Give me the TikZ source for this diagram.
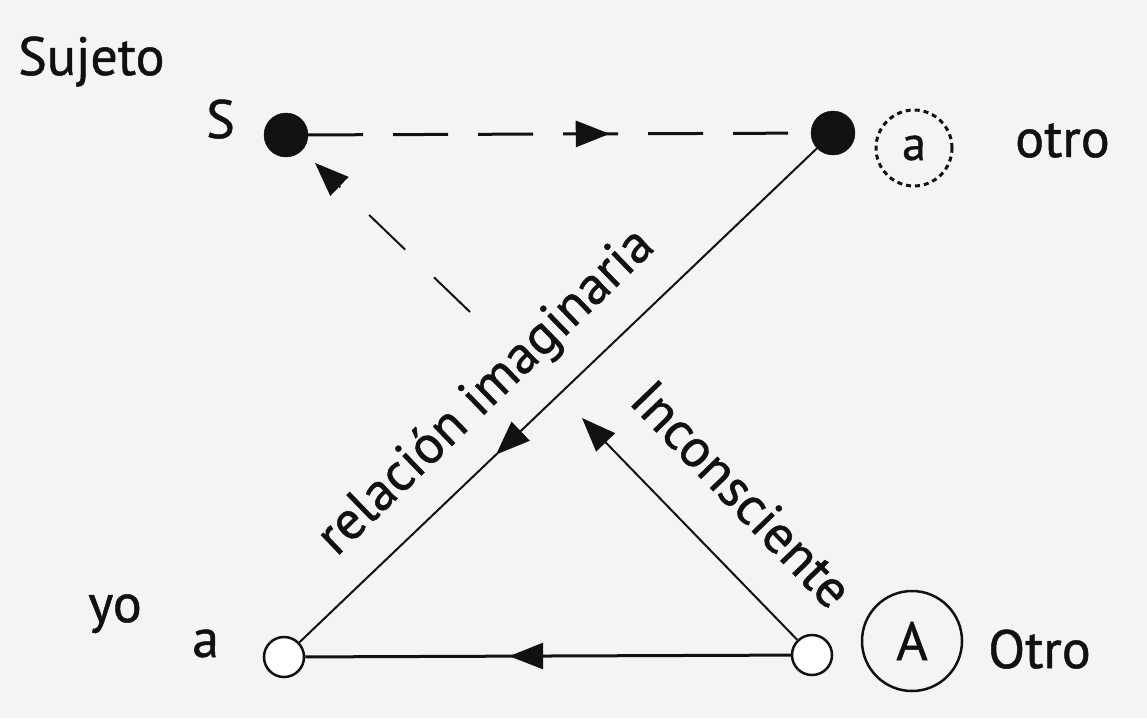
\documentclass[tikz,border=0pt]{standalone}
\usepackage{fontspec}
\setmainfont{PT Sans}[FakeBold=0.9]
\usetikzlibrary{arrows.meta,decorations.markings}
\definecolor{bg}{HTML}{F4F4F4}
\definecolor{ink}{HTML}{111111}
\tikzset{
  x=1pt,y=-1pt,
  txt/.style={inner sep=0pt,text=ink,font=\fontsize{54}{60}\selectfont},
  fdot/.style={circle,fill=ink,draw=ink,minimum size=44pt,inner sep=0pt},
  odot/.style={circle,fill=white,draw=ink,line width=2.5pt,minimum size=40pt,inner sep=0pt},
  dcirc/.style={circle,draw=ink,line width=3pt,dash pattern=on 5pt off 4pt,minimum size=76pt,inner sep=0pt,text=ink,font=\fontsize{48}{50}\selectfont},
  scirc/.style={circle,draw=ink,line width=2.5pt,minimum size=100pt,inner sep=0pt,text=ink,font=\fontsize{54}{56}\selectfont},
  conn/.style={draw=ink,line width=3pt},
  thin conn/.style={draw=ink,line width=2pt},
  bigtri/.tip={Triangle[length=34pt,width=26pt]},
  midarrow/.style={postaction={decorate},decoration={markings,mark=at position #1 with {\arrow{bigtri}}}},
  dashline/.style={dash pattern=on 55pt off 30pt},
}
\begin{document}
\begin{tikzpicture}
\fill[bg] (0,0) rectangle (1147,718);
\useasboundingbox (0,0) rectangle (1147,718);

% points
\node[fdot] (S) at (286,135) {};
\node[fdot] (ap) at (833,133) {};
\node[odot] (a) at (284,657) {};
\node[odot] (A) at (812,655) {};
\node[dcirc] (ca) at (914,148) {a};
\node[scirc] (cA) at (912,641) {A};

% labels
\node[txt,anchor=base west] (sujeto) at (18,75) {Sujeto};
\node[txt,anchor=base west] (Slab) at (206,138) {S};
\node[txt,anchor=base west] (otro) at (1015,157) {otro};
\node[txt,anchor=base west] (Otro) at (988,668) {Otro};
\node[txt,anchor=base west] (yo) at (88,622) {yo};
\node[txt,anchor=base west] (alab) at (192,657) {a};

% coordinates for the broken line A -> S
\coordinate (m1) at (582,418);
\coordinate (d1) at (470,312);

% connectors
\path[conn,dashline,midarrow=0.6] (S) -- (ap);
\path[thin conn,midarrow=0.62] (ap) -- (a);
\path[conn,midarrow=0.58] (A) -- (a);
\draw[thin conn,-{bigtri}] (A) -- (m1);
\draw[thin conn,dash pattern=on 50pt off 40pt,-{bigtri},shorten >=18pt] (d1) -- (S);

% rotated texts
\node[txt,rotate=44] (rel) at (487,393) {relación imaginaria};
\node[txt,rotate=-46] (inc) at (742,494) {Inconsciente};
\end{tikzpicture}
\end{document}
